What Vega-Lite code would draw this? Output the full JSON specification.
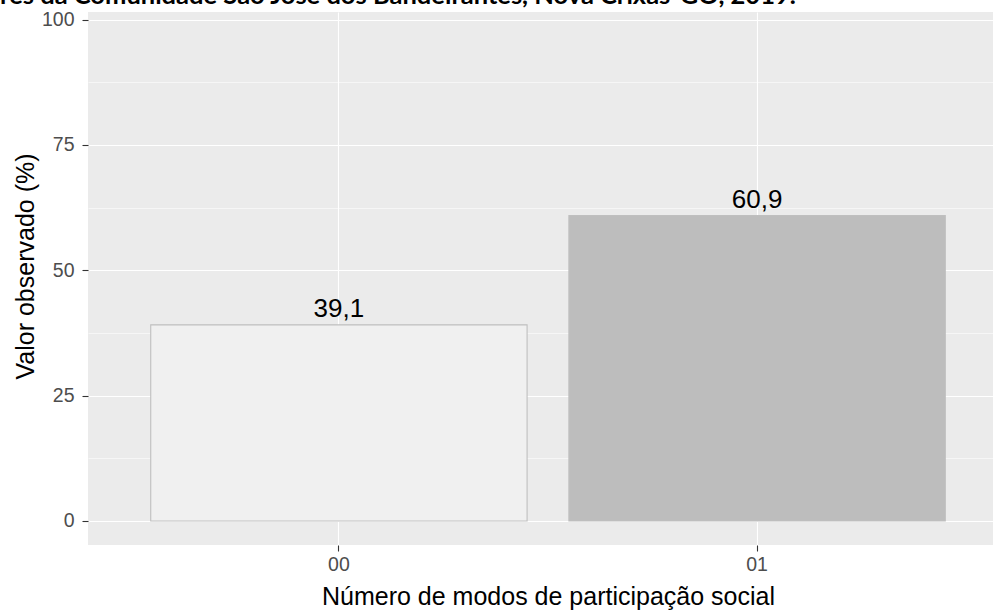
{
  "$schema": "https://vega.github.io/schema/vega-lite/v6.json",
  "autosize": "none",
  "width": 905,
  "height": 533,
  "padding": {"left": 88, "top": 12, "right": 0, "bottom": 65},
  "background": "white",
  "title": {
    "text": "res da Comunidade São José dos Bandeirantes, Nova Crixás-GO, 2019.",
    "anchor": "start",
    "frame": "group",
    "dx": -88,
    "dy": 23,
    "offset": 3,
    "baseline": "alphabetic",
    "font": "Lato",
    "fontWeight": "bold",
    "fontSize": 25.5,
    "color": "#000000"
  },
  "config": {
    "view": {"fill": "#EBEBEB", "stroke": null},
    "font": "Liberation Sans"
  },
  "data": {
    "values": [
      {"modo": "00", "valor": 39.1, "rotulo": "39,1"},
      {"modo": "01", "valor": 60.9, "rotulo": "60,9"}
    ]
  },
  "encoding": {
    "x": {
      "field": "modo",
      "type": "nominal",
      "sort": ["00", "01"],
      "scale": {"range": [0, 920], "paddingInner": 0.1, "paddingOuter": 0.15},
      "axis": {
        "title": "Número de modos de participação social",
        "labelAngle": 0,
        "domain": false,
        "grid": true,
        "gridColor": "#FFFFFF",
        "gridWidth": 1.1,
        "bandPosition": 0.5,
        "tickColor": "#333333",
        "tickSize": 6,
        "tickWidth": 1.1,
        "labelPadding": 4,
        "labelFont": "Liberation Sans",
        "labelFontSize": 19.5,
        "labelColor": "#4D4D4D",
        "titleFont": "Liberation Sans",
        "titleFontSize": 25,
        "titleFontWeight": "normal",
        "titleColor": "#000000",
        "titleBaseline": "alphabetic",
        "titleY": 59
      }
    },
    "y": {
      "field": "valor",
      "type": "quantitative",
      "scale": {"domain": [-4.79, 101.5], "nice": false, "zero": false},
      "axis": {
        "values": [0, 12.5, 25, 37.5, 50, 62.5, 75, 87.5, 100],
        "title": "Valor observado (%)",
        "labelExpr": "datum.value % 25 === 0 ? datum.value : ''",
        "tickOpacity": {"condition": {"test": "datum.value % 25 === 0", "value": 1}, "value": 0},
        "gridWidth": {"condition": {"test": "datum.value % 25 === 0", "value": 1.1}, "value": 0.55},
        "gridColor": "#FFFFFF",
        "domain": false,
        "tickColor": "#333333",
        "tickSize": 6,
        "tickWidth": 1.1,
        "labelPadding": 8,
        "labelFont": "Liberation Sans",
        "labelFontSize": 19.5,
        "labelColor": "#4D4D4D",
        "titleFont": "Liberation Sans",
        "titleFontSize": 25,
        "titleFontWeight": "normal",
        "titleColor": "#000000",
        "titleBaseline": "alphabetic",
        "titleAngle": -90,
        "titleX": -54.5,
        "titleY": 254
      }
    }
  },
  "layer": [
    {
      "mark": {"type": "bar", "stroke": "#BFBFBF", "strokeWidth": 1.1},
      "encoding": {
        "color": {
          "field": "modo",
          "type": "nominal",
          "scale": {"domain": ["00", "01"], "range": ["#F0F0F0", "#BDBDBD"]},
          "legend": null
        }
      }
    },
    {
      "mark": {"type": "text", "baseline": "alphabetic", "dy": -8, "fontSize": 26, "font": "Liberation Sans", "color": "#000000"},
      "encoding": {
        "text": {"field": "rotulo", "type": "nominal"}
      }
    }
  ]
}
